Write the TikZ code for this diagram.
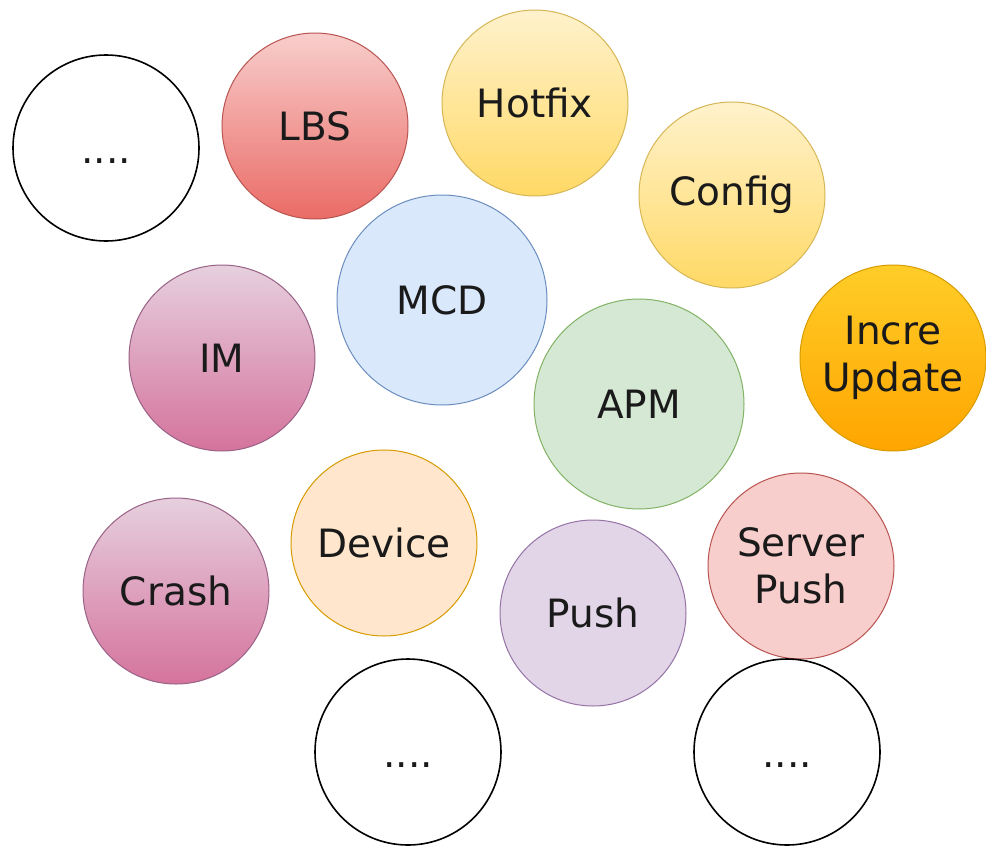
\documentclass[tikz,border=0pt]{standalone}
\usepackage{fontspec}
\setmainfont{DejaVu Sans}
\definecolor{txt}{HTML}{1A1A1A}
\definecolor{redA}{HTML}{F8CECC}\definecolor{redB}{HTML}{EA6B66}\definecolor{redS}{HTML}{B85450}
\definecolor{yelA}{HTML}{FFF2CC}\definecolor{yelB}{HTML}{FFD966}\definecolor{yelS}{HTML}{D6B656}
\definecolor{pnkA}{HTML}{E6D0DE}\definecolor{pnkB}{HTML}{D5739D}\definecolor{pnkS}{HTML}{996185}
\definecolor{orgA}{HTML}{FFCD28}\definecolor{orgB}{HTML}{FFA500}\definecolor{orgS}{HTML}{D79B00}
\definecolor{bluF}{HTML}{DAE8FC}\definecolor{bluS}{HTML}{6C8EBF}
\definecolor{grnF}{HTML}{D5E8D4}\definecolor{grnS}{HTML}{82B366}
\definecolor{pchF}{HTML}{FFE6CC}\definecolor{pchS}{HTML}{D79B00}
\definecolor{prpF}{HTML}{E1D5E7}\definecolor{prpS}{HTML}{9673A6}
\begin{document}
\begin{tikzpicture}[x=1pt,y=-1pt,
  bubble/.style={circle, inner sep=0pt, minimum size=186pt, line width=1pt,
    align=center, text=txt, font=\fontsize{39}{47}\selectfont},
  big/.style={minimum size=210pt},
  blank/.style={bubble, draw=black, fill=white, line width=1.6pt},
  redg/.style={bubble, draw=redS, top color=redA, bottom color=redB},
  yelg/.style={bubble, draw=yelS, top color=yelA, bottom color=yelB},
  pnkg/.style={bubble, draw=pnkS, top color=pnkA, bottom color=pnkB},
  orgg/.style={bubble, draw=orgS, top color=orgA, bottom color=orgB},
  blu/.style={bubble, big, draw=bluS, fill=bluF},
  grn/.style={bubble, big, draw=grnS, fill=grnF},
  pch/.style={bubble, draw=pchS, fill=pchF},
  prp/.style={bubble, draw=prpS, fill=prpF},
  spk/.style={bubble, draw=redS, fill=redA}]
\useasboundingbox[fill=white] (0,0) rectangle (986,846);
\newcommand{\dotsfour}{\smash{\raisebox{-15pt}{....}}}
\node[blank] (dots1) at (106,148) {\dotsfour};
\node[redg] (lbs) at (315,126) {LBS};
\node[yelg] (hotfix) at (535,103) {Hotfix};
\node[yelg] (config) at (732,195) {Config};
\node[blu] (mcd) at (442,300) {MCD};
\node[pnkg] (im) at (222,358) {IM};
\node[orgg] (incre) at (893,358) {Incre\\Update};
\node[grn] (apm) at (639,404) {APM};
\node[pch] (device) at (384,543) {Device};
\node[pnkg] (crash) at (176,591) {Crash};
\node[prp] (push) at (593,613) {Push};
\node[spk] (spush) at (801,566) {Server\\Push};
\node[blank] (dots2) at (408,752) {\dotsfour};
\node[blank] (dots3) at (787,752) {\dotsfour};
\end{tikzpicture}
\end{document}
